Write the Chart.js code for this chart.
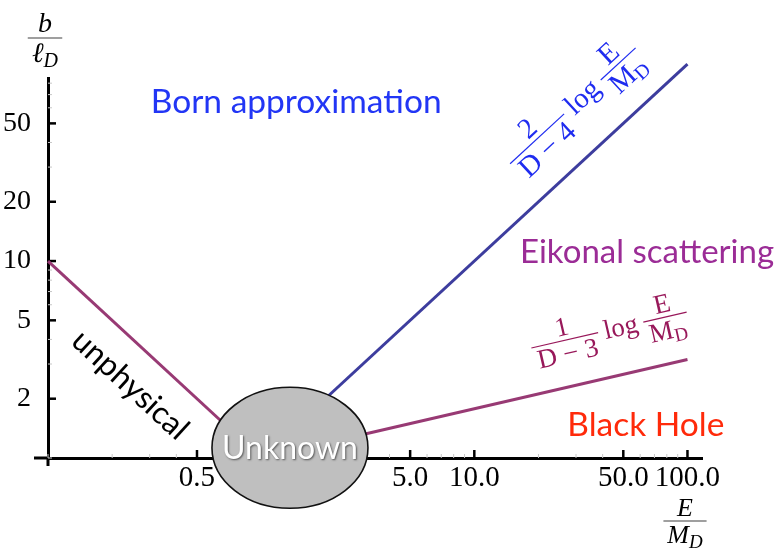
<!DOCTYPE html>
<html>
<head>
<meta charset="utf-8">
<script src="https://cdn.jsdelivr.net/npm/chart.js@4.4.0/dist/chart.umd.min.js"></script>
<style>
  html, body { margin: 0; padding: 0; background: #fff; }
  #wrap { width: 778px; height: 554px; }
</style>
</head>
<body>
<div id="wrap"><canvas id="c" width="778" height="554"></canvas></div>
<script>
// ---- data (log-log plane: E/M_D vs b/l_D) ----
const unphysicalLine = [{ x: 0.1, y: 10 }, { x: 1, y: 1 }];
const bornLine = [{ x: 1, y: 1 }, { x: 100, y: 100 }];
const blackHoleLine = [{ x: 1, y: 1 }, { x: 100, y: 3.16 }];

const xRange = [0.1, 117];
const yRange = [1, 85];
const xTickValues = [0.5, 5, 10, 50, 100];
const xTickLabels = ["0.5", "5.0", "10.0", "50.0", "100.0"];
const yTickValues = [2, 5, 10, 20, 50];
const yTickLabels = ["2", "5", "10", "20", "50"];

// region names, anchored at data coordinates
const regionNames = ["Born approximation", "Eikonal scattering", "Black Hole", "unphysical"];
const regionX = [1.46, 64.6, 63.8, 0.243];
const regionY = [64, 11.1, 1.47, 2.35];
const regionColors = ["#2236f5", "#9b2c96", "#ff2a0a", "#000000"];

// the "Unknown" blob
const unknownCenter = { x: 1.365, y: 1.127 };

// formula labels along the two right-hand lines
const formulaAt = [{ x: 30.9, y: 57 }, { x: 43.7, y: 4.07 }];

function $(id) { return document.getElementById(id); }

// minor ticks 1..9 per decade between the range ends
function logTicks(lo, hi) {
  const out = [];
  for (let d = Math.floor(Math.log10(lo)); d <= Math.ceil(Math.log10(hi)); d++) {
    for (let k = 1; k <= 9; k++) {
      const v = Number((k * Math.pow(10, d)).toPrecision(6));
      if (v >= lo && v <= hi) out.push(v);
    }
  }
  return out;
}

function labelFor(values, labels) {
  return (v) => {
    const i = values.findIndex(t => Math.abs(t - v) < 1e-9 * Math.max(1, t));
    return i >= 0 ? labels[i] : "";
  };
}

const SERIF = '"Liberation Serif", "DejaVu Serif", serif';
const SANS = 'Lato, "Open Sans", sans-serif';

// ---- drawing helpers ----
function drawFraction(ctx, x0, num, den, sub, fs, draw) {
  ctx.font = fs + "px " + SERIF;
  const wn = ctx.measureText(num).width;
  const wd0 = ctx.measureText(den).width;
  ctx.font = Math.round(fs * 0.7) + "px " + SERIF;
  const ws = sub ? ctx.measureText(sub).width : 0;
  const wd = wd0 + ws;
  const w = Math.max(wn, wd) + fs * 0.25;
  if (draw) {
    const barY = -fs * 0.3;
    ctx.font = fs + "px " + SERIF;
    ctx.textBaseline = "alphabetic";
    ctx.textAlign = "left";
    ctx.fillText(num, x0 + (w - wn) / 2, barY - fs * 0.18);
    const dx = x0 + (w - wd) / 2;
    ctx.fillText(den, dx, barY + fs * 0.82);
    if (sub) {
      ctx.font = Math.round(fs * 0.7) + "px " + SERIF;
      ctx.fillText(sub, dx + wd0, barY + fs * 0.98);
    }
    ctx.fillRect(x0, barY - 0.6, w, 1.2);
  }
  return w;
}

function drawFormula(ctx, cx, cy, angle, color, fs, first) {
  ctx.save();
  ctx.translate(cx, cy);
  ctx.rotate(angle);
  ctx.fillStyle = color;
  const gap = fs * 0.22;
  ctx.font = fs + "px " + SERIF;
  const wLog = ctx.measureText("log").width;
  const w1 = drawFraction(ctx, 0, first[0], first[1], null, fs, false);
  const w2 = drawFraction(ctx, 0, "E", "M", "D", fs, false);
  const total = w1 + gap + wLog + gap + w2;
  let x = -total / 2;
  drawFraction(ctx, x, first[0], first[1], null, fs, true);
  x += w1 + gap;
  ctx.font = fs + "px " + SERIF;
  ctx.textAlign = "left";
  ctx.textBaseline = "alphabetic";
  ctx.fillText("log", x, 0);
  x += wLog + gap;
  drawFraction(ctx, x, "E", "M", "D", fs, true);
  ctx.restore();
}

function drawAxisTitle(ctx, cx, barY, num, den, sub, fs, barColor) {
  ctx.save();
  ctx.fillStyle = "#000";
  ctx.textBaseline = "alphabetic";
  ctx.textAlign = "left";
  ctx.font = "italic " + fs + "px " + SERIF;
  const wn = ctx.measureText(num).width;
  const wd0 = ctx.measureText(den).width;
  ctx.font = "italic " + Math.round(fs * 0.72) + "px " + SERIF;
  const ws = ctx.measureText(sub).width;
  const wd = wd0 + ws;
  const w = Math.max(wn, wd) + fs * 0.3;
  ctx.font = "italic " + fs + "px " + SERIF;
  ctx.fillText(num, cx - wn / 2, barY - fs * 0.2);
  ctx.fillText(den, cx - wd / 2, barY + fs * 0.85);
  ctx.font = "italic " + Math.round(fs * 0.72) + "px " + SERIF;
  ctx.fillText(sub, cx - wd / 2 + wd0, barY + fs * 1.02);
  ctx.fillStyle = barColor;
  ctx.fillRect(cx - w / 2, barY - 0.7, w, 1.4);
  ctx.restore();
}

const decor = {
  id: "decor",
  beforeDatasetsDraw(chart) {
    const { ctx, chartArea: a } = chart;
    const xs = chart.scales.x, ys = chart.scales.y;
    ctx.save();
    // axis overhangs past the crossing point
    ctx.strokeStyle = "#000";
    ctx.lineWidth = 3;
    ctx.beginPath();
    ctx.moveTo(a.left - 14, a.bottom); ctx.lineTo(a.left, a.bottom);
    ctx.moveTo(a.left, a.bottom); ctx.lineTo(a.left, a.bottom + 8);
    ctx.stroke();
    // inward tick marks
    xs.ticks.forEach(t => {
      const major = labelFor(xTickValues, xTickLabels)(t.value) !== "";
      const px = xs.getPixelForValue(t.value);
      ctx.strokeStyle = major ? "#000" : "#c8c8c8";
      ctx.lineWidth = major ? 2.5 : 1;
      ctx.beginPath();
      ctx.moveTo(px, a.bottom);
      ctx.lineTo(px, a.bottom - (major ? 8 : 4));
      ctx.stroke();
    });
    ys.ticks.forEach(t => {
      const major = labelFor(yTickValues, yTickLabels)(t.value) !== "";
      const py = ys.getPixelForValue(t.value);
      ctx.strokeStyle = major ? "#000" : "#c8c8c8";
      ctx.lineWidth = major ? 2.5 : 1;
      ctx.beginPath();
      ctx.moveTo(a.left, py);
      ctx.lineTo(a.left + (major ? 8 : 4), py);
      ctx.stroke();
    });
    ctx.restore();
  },
  afterDatasetsDraw(chart) {
    const { ctx } = chart;
    const xs = chart.scales.x, ys = chart.scales.y;
    const px = v => xs.getPixelForValue(v), py = v => ys.getPixelForValue(v);
    ctx.save();

    // Unknown blob
    const ex = px(unknownCenter.x), ey = py(unknownCenter.y);
    ctx.beginPath();
    ctx.ellipse(ex, ey, 78, 60.5, 0, 0, Math.PI * 2);
    ctx.fillStyle = "#bfbfbf";
    ctx.fill();
    ctx.lineWidth = 1.6;
    ctx.strokeStyle = "#111";
    ctx.stroke();
    ctx.font = "32px " + SANS;
    ctx.textAlign = "center";
    ctx.textBaseline = "middle";
    ctx.shadowColor = "rgba(60,60,60,0.8)";
    ctx.shadowBlur = 2;
    ctx.shadowOffsetX = 1;
    ctx.shadowOffsetY = 1;
    ctx.fillStyle = "#fff";
    ctx.fillText("Unknown", ex, ey + 1);
    ctx.shadowColor = "transparent";

    // region names
    const sizes = [33.5, 33, 33.5, 31.5];
    const angles = [0, 0, 0, 42.5 * Math.PI / 180];
    regionNames.forEach((name, i) => {
      ctx.save();
      ctx.translate(px(regionX[i]), py(regionY[i]));
      ctx.rotate(angles[i]);
      ctx.font = sizes[i] + "px " + SANS;
      ctx.fillStyle = regionColors[i];
      ctx.textAlign = "center";
      ctx.textBaseline = "middle";
      ctx.fillText(name, 0, 0);
      ctx.restore();
    });

    // formulas, tilted like their lines
    const ang = line => Math.atan2(py(line[1].y) - py(line[0].y), px(line[1].x) - px(line[0].x));
    drawFormula(ctx, px(formulaAt[0].x), py(formulaAt[0].y), ang(bornLine), "#1f2cf0", 29, ["2", "D \u2212 4"]);
    drawFormula(ctx, px(formulaAt[1].x), py(formulaAt[1].y), ang(blackHoleLine), "#98185a", 27, ["1", "D \u2212 3"]);

    // axis titles
    drawAxisTitle(ctx, 45, 38, "b", "\u2113", "D", 28, "#777");
    drawAxisTitle(ctx, 685, 521, "E", "M", "D", 26, "#777");
    ctx.restore();
  }
};

function main() {
  const ctx = $("c").getContext("2d");
  new Chart(ctx, {
    type: "scatter",
    data: {
      datasets: [
        { data: unphysicalLine, borderColor: "#983a74", showLine: true },
        { data: bornLine, borderColor: "#3d3d9e", showLine: true },
        { data: blackHoleLine, borderColor: "#983a74", showLine: true },
      ].map(d => ({ ...d, borderWidth: 3, pointRadius: 0, clip: false, tension: 0 })),
    },
    options: {
      responsive: false,
      animation: false,
      devicePixelRatio: 1,
      layout: { padding: { top: 78, right: 76, left: 0, bottom: 0 } },
      plugins: { legend: { display: false }, tooltip: { enabled: false } },
      scales: {
        x: {
          type: "logarithmic",
          min: xRange[0],
          max: xRange[1],
          afterBuildTicks: s => { s.ticks = logTicks(xRange[0], xRange[1]).map(v => ({ value: v })); },
          afterFit: s => { s.height = 96; },
          grid: { display: false },
          border: { display: true, color: "#000", width: 3 },
          ticks: {
            autoSkip: false, maxRotation: 0, padding: -5, color: "#000",
            font: { family: SERIF, size: 29 },
            callback: labelFor(xTickValues, xTickLabels),
          },
        },
        y: {
          type: "logarithmic",
          min: yRange[0],
          max: yRange[1],
          afterBuildTicks: s => { s.ticks = logTicks(yRange[0], yRange[1]).map(v => ({ value: v })); },
          afterFit: s => { s.width = 48; },
          grid: { display: false },
          border: { display: true, color: "#000", width: 3 },
          ticks: {
            autoSkip: false, padding: 9, color: "#000",
            font: { family: SERIF, size: 28 },
            callback: labelFor(yTickValues, yTickLabels),
          },
        },
      },
    },
    plugins: [decor],
  });
}

main();
</script>
</body>
</html>
